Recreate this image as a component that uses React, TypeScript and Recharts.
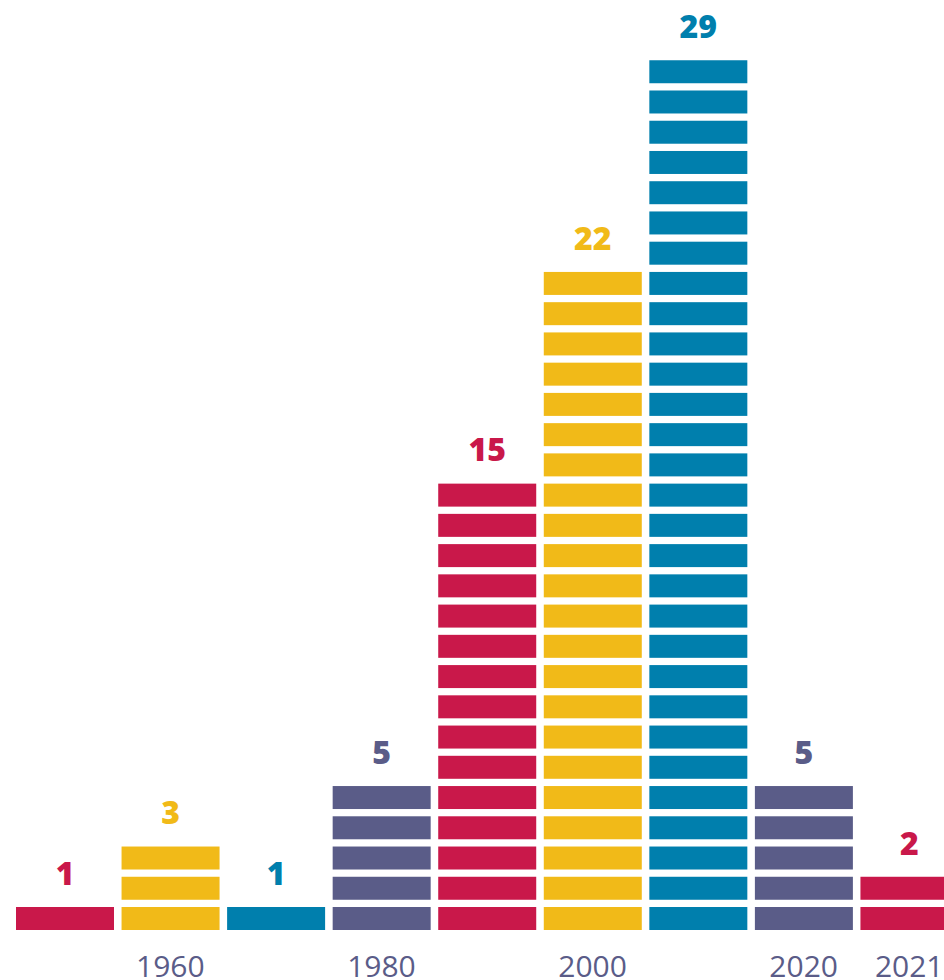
import React from "react";
import { BarChart, Bar, XAxis, YAxis, Cell, LabelList } from "recharts";

const categories = ["1950", "1960", "1970", "1980", "1990", "2000", "2010", "2020", "2021"];
const counts = [1, 3, 1, 5, 15, 22, 29, 5, 2];
const shownTicks = ["1960", "1980", "2000", "2020", "2021"];
const palette = ["#C9184A", "#F1BA18", "#007FAD", "#5A5C88"];

const data = categories.map((c, i) => ({ decade: c, count: counts[i] }));

const GAP = 7.25;
const FONT = "'Open Sans', 'DejaVu Sans', sans-serif";

const BlockShape = (props: any) => {
  const { x, y, width, height, index, payload } = props;
  const n = payload?.count ?? 0;
  if (!n || !height) return null;
  const pitch = height / n;
  const fill = palette[index % palette.length];
  const rects = [];
  for (let k = 1; k <= n; k++) {
    rects.push(
      <rect
        key={k}
        x={x}
        y={y + height - k * pitch + GAP}
        width={width}
        height={pitch - GAP}
        fill={fill}
      />
    );
  }
  return <g>{rects}</g>;
};

const ValueLabel = (props: any) => {
  const { x, y, width, value, index } = props;
  return (
    <text
      x={x + width / 2}
      y={y - 15}
      textAnchor="middle"
      fill={palette[index % palette.length]}
      fontFamily={FONT}
      fontWeight={800}
      fontSize={32}
    >
      {value}
    </text>
  );
};

const DecadeTick = (props: any) => {
  const { x, y, payload } = props;
  const v = String(payload?.value ?? "");
  if (!shownTicks.includes(v)) return null;
  return (
    <text
      x={x}
      y={y + 47}
      textAnchor="middle"
      fill="#5A5C88"
      fontFamily={FONT}
      fontWeight={400}
      fontSize={30}
    >
      {v}
    </text>
  );
};

export default function App() {
  return (
    <div
      style={{
        position: "absolute",
        left: 0,
        top: 0,
        width: 944,
        height: 980,
        overflow: "hidden",
        background: "#fff",
      }}
    >
      <BarChart
        width={962}
        height={980}
        data={data}
        margin={{ top: 53, right: 0, left: 12, bottom: 0 }}
      >
        <XAxis
          dataKey="decade"
          height={50}
          axisLine={false}
          tickLine={false}
          tickSize={0}
          tickMargin={0}
          interval={0}
          tick={<DecadeTick />}
        />
        <YAxis hide domain={[0, 29]} />
        <Bar dataKey="count" barSize={98} isAnimationActive={false} shape={<BlockShape />}>
          {data.map((d, i) => (
            <Cell key={d.decade} fill={palette[i % palette.length]} />
          ))}
          <LabelList dataKey="count" content={<ValueLabel />} />
        </Bar>
      </BarChart>
    </div>
  );
}
